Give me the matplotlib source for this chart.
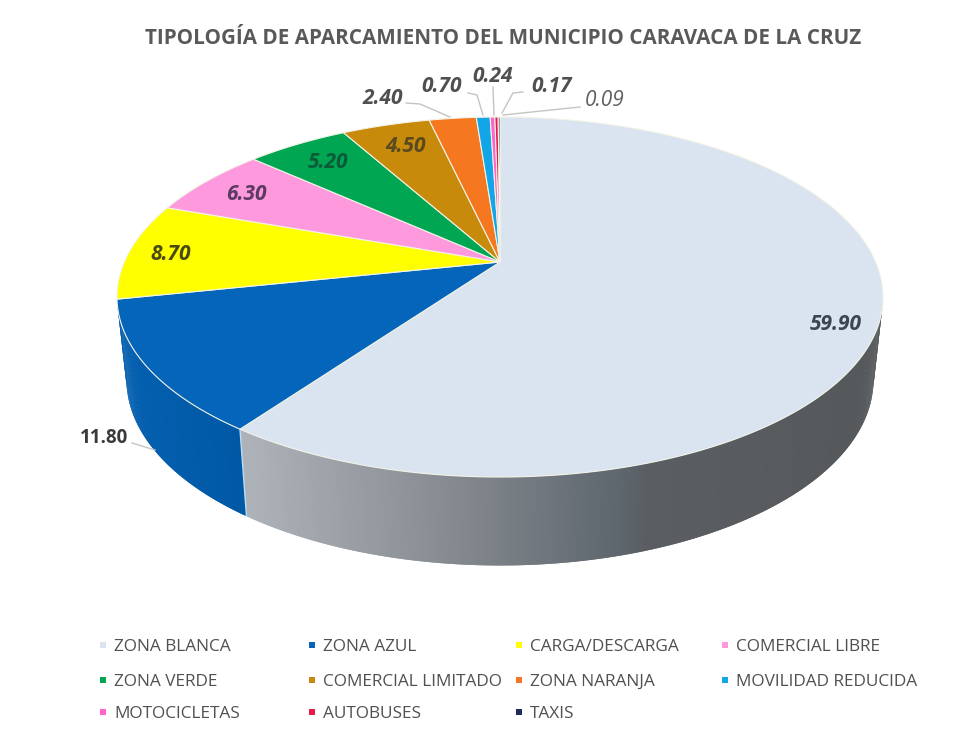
#!/usr/bin/env python3

import numpy as np
from matplotlib import pyplot as plt
from matplotlib.colors import to_rgb
from matplotlib.patches import Polygon, Rectangle

# chart data
title = 'TIPOLOGÍA DE APARCAMIENTO DEL MUNICIPIO CARAVACA DE LA CRUZ'
categories = ['ZONA BLANCA', 'ZONA AZUL', 'CARGA/DESCARGA', 'COMERCIAL LIBRE',
              'ZONA VERDE', 'COMERCIAL LIMITADO', 'ZONA NARANJA', 'MOVILIDAD REDUCIDA',
              'MOTOCICLETAS', 'AUTOBUSES', 'TAXIS']
values = [59.90, 11.80, 8.70, 6.30, 5.20, 4.50, 2.40, 0.70, 0.24, 0.17, 0.09]
colors = ['#d9e4f0', '#0565ba', '#ffff00', '#ff99dd', '#00a651', '#c88a0a',
          '#f5771f', '#12a5e8', '#ff66cc', '#e8174f', '#1f2a55']

# value label layout, pixels in the picture
label_pos = [(836, 325), (104, 438), (171, 255), (246, 195), (328, 163), (406, 147),
             (383, 98), (442, 87), (493, 77), (552, 86), (605, 100)]
label_colors = ['#3c4652', '#3a3a3a', '#4a4a10', '#5c3a66', '#0c5a38', '#5a4a20',
                '#505050', '#505050', '#505050', '#505050', '#606060']
leaders = [None, [(132, 443), (155, 450)], None, None, None, None,
           [(406, 103), (420, 104), (450, 117)],
           [(468, 93), (477, 95), (483, 115)],
           [(493, 87), (494, 115)],
           [(523, 92), (513, 93), (502, 113)],
           [(580, 107), (503, 115)]]

# legend layout, pixels in the picture
legend_x = [103, 312, 519, 725]
legend_y = [645, 680, 712]

# perspective of the pie
cx, cy = 500, 262
scale_x, scale_y, tilt = 375.7, 173.2, 0.1945
side_dy, side_sx, side_sy = 82, 0.975, 1.03

def topPoint(theta):
    u, v = np.sin(theta), np.cos(theta)
    w = 1 + tilt * v
    return cx + scale_x * u / w, cy - scale_y * v / w

def bottomPoint(theta):
    x, y = topPoint(theta)
    return cx + (x - cx) * side_sx, cy + side_dy + (y - cy) * side_sy

def sideColor(x, stops):
    xs = [s[0] for s in stops]
    rgb = [to_rgb(s[1]) for s in stops]
    return [np.interp(x, xs, [c[i] for c in rgb]) for i in range(3)]

def drawSide(ax, start, end, stops):
    steps = np.linspace(start, end, int(abs(end - start) * 180 / np.pi * 3) + 2)
    gap = steps[1] - steps[0]
    for a in steps[:-1]:
        # each strip runs over the next one so no seams show
        b = min(a + 2 * gap, end)
        x1, y1 = topPoint(a)
        x2, y2 = topPoint(b)
        x3, y3 = bottomPoint(b)
        x4, y4 = bottomPoint(a)
        col = sideColor(x1 + (x2 - x1) / 4, stops)
        ax.add_patch(Polygon([(x1, y1), (x2, y2), (x3, y3), (x4, y4)], closed = True,
                             facecolor = col, edgecolor = 'none', zorder = 1))

def main():
    plt.rcParams['font.family'] = ['Open Sans', 'DejaVu Sans']
    fig = plt.figure(figsize = (9.79, 7.34), dpi = 100)
    ax = fig.add_axes([0, 0, 1, 1])
    ax.set_xlim(0, 979)
    ax.set_ylim(734, 0)
    ax.axis('off')

    ax.text(503, 38, title, ha = 'center', va = 'center', fontsize = 14.9,
            fontweight = 'bold', color = '#595959')

    edges = np.cumsum([0] + values) / sum(values) * 2 * np.pi

    # side wall, only the near part can be seen
    grey_stops = [(250, '#acb2b8'), (400, '#8f959a'), (500, '#7a8086'), (620, '#5e666e'),
                  (650, '#5a5e62'), (885, '#55585b')]
    blue_stops = [(120, '#0460b0'), (250, '#0058a4')]
    left_limit = np.radians(259)
    right_limit = np.radians(101)
    drawSide(ax, right_limit, edges[1], grey_stops)
    drawSide(ax, edges[1], left_limit, blue_stops)
    # thin seam at the slice corner
    x1, y1 = topPoint(edges[1])
    x2, y2 = bottomPoint(edges[1])
    ax.plot([x1, x2], [y1, y2], color = '#bcdcf5', lw = 1, zorder = 2)

    # top face
    for i in range(len(values)):
        theta = np.linspace(edges[i], edges[i + 1], max(int(values[i] * 8), 4))
        rim = [topPoint(t) for t in theta]
        ax.add_patch(Polygon([(cx, cy)] + rim, closed = True, facecolor = colors[i],
                             edgecolor = '#f3f3e6', lw = 0.8, zorder = 3))

    # value labels and leader lines
    for i, val in enumerate(values):
        bold = 'normal' if i == len(values) - 1 else 'bold'
        italic = 'normal' if i == 1 else 'italic'
        ax.text(label_pos[i][0], label_pos[i][1], '%.2f' % val, ha = 'center', va = 'center',
                fontsize = 15 if i != 1 else 13.5, fontweight = bold, fontstyle = italic,
                color = label_colors[i], zorder = 5)
        if leaders[i] is not None:
            ax.plot([p[0] for p in leaders[i]], [p[1] for p in leaders[i]],
                    color = '#c4c4c4', lw = 1, zorder = 4)

    # legend, filled row by row
    for i, name in enumerate(categories):
        x = legend_x[i % 4]
        y = legend_y[i // 4]
        ax.add_patch(Rectangle((x - 3, y - 3), 6, 6, facecolor = colors[i], edgecolor = 'none'))
        ax.text(x + 11, y + 6, name, ha = 'left', va = 'baseline', fontsize = 12.4, color = '#505050')

    fig.savefig('out.png', dpi = 100)

if __name__ == '__main__':
    main()
